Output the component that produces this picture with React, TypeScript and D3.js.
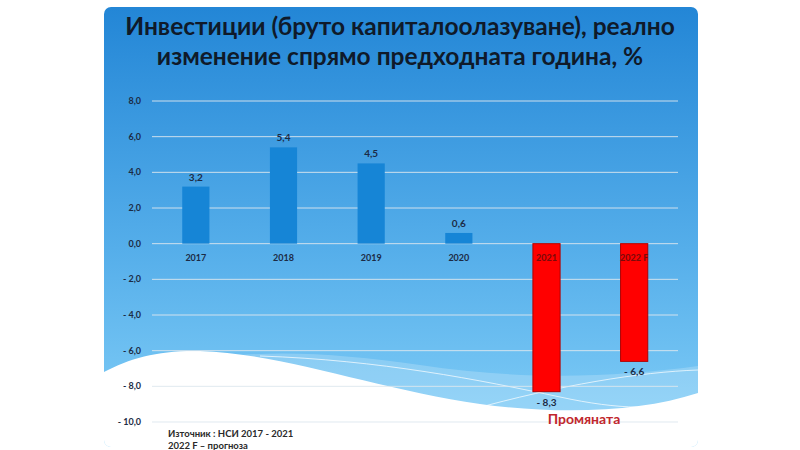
import React from "react";
import * as d3 from "d3";

const categories = ["2017", "2018", "2019", "2020", "2021", "2022 F"];
const values = [3.2, 5.4, 4.5, 0.6, -8.3, -6.6];
const highlighted = [false, false, false, false, true, true];
const yTicks = [8, 6, 4, 2, 0, -2, -4, -6, -8, -10];
const titleLines = [
  "Инвестиции (бруто капиталоолазуване), реално",
  "изменение спрямо предходната година, %",
];
const sourceLines = ["Източник : НСИ 2017 - 2021", "2022 F – прогноза"];
const noteText = "Промяната";

const W = 800;
const H = 450;
const plot = { left: 152, right: 678, top: 101, bottom: 422 };

const fmt = (v: number) => {
  const s = Math.abs(v).toFixed(1).replace(".", ",");
  return v < 0 ? "- " + s : s;
};

export default function App() {
  const x = d3
    .scaleBand<string>()
    .domain(categories)
    .range([plot.left, plot.right])
    .padding(0);
  const y = d3.scaleLinear().domain([-10, 8]).range([plot.bottom, plot.top]);
  const barW = x.bandwidth() * 0.31;
  const navy = "#1c2b45";

  return (
    <svg
      width={W}
      height={H}
      style={{ position: "absolute", left: 0, top: 0, background: "#fff" }}
      fontFamily="Lato, 'Open Sans', sans-serif"
    >
      <defs>
        <linearGradient id="bg" x1="0" y1="0" x2="0" y2="1">
          <stop offset="0" stopColor="#2386d6" />
          <stop offset="0.55" stopColor="#55aeea" />
          <stop offset="1" stopColor="#84d0f8" />
        </linearGradient>
        <clipPath id="panelClip">
          <rect x={104} y={7} width={594} height={440} rx={7} />
        </clipPath>
      </defs>

      <g clipPath="url(#panelClip)">
        <rect x={104} y={7} width={594} height={440} fill="url(#bg)" />
        <path
          d="M104,390 C200,345 300,348 420,365 C520,380 610,378 698,366 L698,450 L104,450 Z"
          fill="#ffffff"
          opacity={0.2}
        />
        <path
          d="M104,372 C130,358 160,350 200,351 C280,353 380,390 480,404 C560,415 640,412 698,393 L698,450 L104,450 Z"
          fill="#ffffff"
        />
        <path
          d="M260,356 C380,360 480,380 560,397 C620,410 660,410 698,400"
          fill="none"
          stroke="#ffffff"
          strokeOpacity={0.7}
          strokeWidth={1}
        />
        <path
          d="M470,410 C560,385 640,372 698,370"
          fill="none"
          stroke="#ffffff"
          strokeOpacity={0.7}
          strokeWidth={1}
        />
      </g>

      {titleLines.map((t, i) => (
        <text
          key={t}
          x={400}
          y={35 + i * 30}
          textAnchor="middle"
          fontSize={24.5}
          fontWeight={700}
          fill="#0f1a2a"
        >
          {t}
        </text>
      ))}

      {yTicks.map((t) => (
        <g key={t}>
          <line
            x1={plot.left}
            x2={plot.right}
            y1={y(t)}
            y2={y(t)}
            stroke="#dde7ee"
            strokeOpacity={0.9}
            strokeWidth={1}
          />
          <text
            x={141}
            y={y(t)}
            dy="0.35em"
            textAnchor="end"
            fontSize={9}
            fontWeight={700}
            fill={navy}
          >
            {fmt(t)}
          </text>
        </g>
      ))}

      {categories.map((c, i) => {
        const v = values[i];
        const cx = (x(c) as number) + x.bandwidth() / 2;
        const y0 = y(0);
        const y1 = y(v);
        const red = highlighted[i];
        return (
          <g key={c}>
            <rect
              x={cx - barW / 2}
              y={Math.min(y0, y1)}
              width={barW}
              height={Math.abs(y1 - y0)}
              fill={red ? "#ff0000" : "#1685d6"}
              stroke={red ? "#b00000" : "none"}
              strokeWidth={red ? 1 : 0}
            />
            <text
              x={cx}
              y={v >= 0 ? y1 - 6 : y1 + 14}
              textAnchor="middle"
              fontSize={10}
              fontWeight={700}
              fill={navy}
            >
              {fmt(v)}
            </text>
            <text
              x={cx}
              y={y0 + 17}
              textAnchor="middle"
              fontSize={9}
              fontWeight={700}
              fill={red ? "#7a0a0a" : navy}
            >
              {c}
            </text>
          </g>
        );
      })}

      {sourceLines.map((t, i) => (
        <text
          key={t}
          x={168}
          y={437 + i * 12}
          fontSize={9.5}
          fontWeight={700}
          fill="#2a2a2a"
        >
          {t}
        </text>
      ))}

      <text
        x={584}
        y={424}
        textAnchor="middle"
        fontSize={14}
        fontWeight={700}
        fill="#c1272d"
      >
        {noteText}
      </text>
    </svg>
  );
}
